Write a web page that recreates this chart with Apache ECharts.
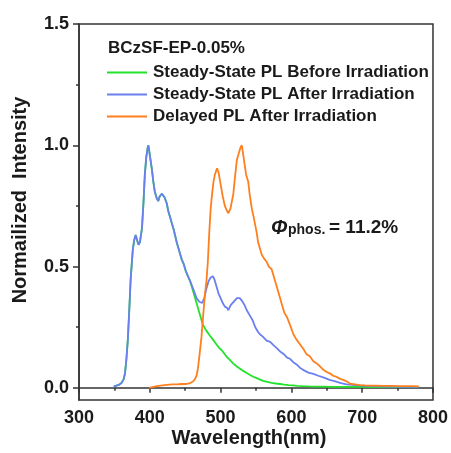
<!DOCTYPE html>
<html>
<head>
<meta charset="utf-8">
<script src="https://cdn.jsdelivr.net/npm/echarts@6/dist/echarts.min.js"></script>
<style>html,body{margin:0;padding:0;background:#fff;}#c{width:451px;height:453px;}</style>
</head>
<body>
<div id="c"></div>
<script>
// ---- data ----
var seriesNames = ['Steady-State PL Before Irradiation', 'Steady-State PL After Irradiation', 'Delayed PL After Irradiation'];
var sampleLabel = 'BCzSF-EP-0.05%';
var xTicks = [300, 400, 500, 600, 700, 800];
var yTicks = [0, 0.5, 1.0, 1.5];
var yMinorTicks = [0.25, 0.75, 1.25];

var commonWl = [349, 352, 356, 360, 363, 365, 367, 369, 371, 373, 376, 378, 380, 382, 384, 386, 389, 391, 393, 395, 397, 398, 400, 403, 405, 407, 410, 412, 414, 417, 419, 421, 424, 426, 429, 431, 434, 438, 441, 445, 448, 451, 454, 457];
var commonI  = [0.005, 0.008, 0.012, 0.02, 0.035, 0.06, 0.12, 0.2, 0.32, 0.45, 0.57, 0.61, 0.63, 0.61, 0.59, 0.6, 0.66, 0.76, 0.88, 0.95, 0.99, 1.0, 0.96, 0.9, 0.85, 0.81, 0.78, 0.77, 0.79, 0.8, 0.8, 0.785, 0.76, 0.73, 0.7, 0.68, 0.65, 0.6, 0.57, 0.53, 0.51, 0.48, 0.46, 0.44];

var greenWl = [461, 466, 470, 475, 480, 485, 489, 494, 498, 503, 508, 513, 518, 523, 527, 532, 537, 541, 546, 551, 556, 560, 566, 572, 578, 584, 590, 596, 602, 608, 616, 625, 635, 645, 660, 680, 700, 720, 740, 760, 780];
var greenI  = [0.40, 0.35, 0.31, 0.26, 0.235, 0.215, 0.20, 0.18, 0.165, 0.15, 0.13, 0.115, 0.1, 0.088, 0.08, 0.07, 0.061, 0.054, 0.046, 0.04, 0.034, 0.029, 0.025, 0.021, 0.018, 0.016, 0.013, 0.011, 0.01, 0.008, 0.007, 0.006, 0.005, 0.005, 0.004, 0.004, 0.004, 0.003, 0.003, 0.003, 0.003];

var blueWl = [461, 466, 470, 474, 477, 480, 483, 486, 489, 491, 494, 497, 500, 503, 506, 509, 511, 514, 517, 520, 523, 527, 530, 534, 537, 541, 545, 549, 553, 556, 560, 565, 570, 575, 579, 584, 589, 594, 598, 603, 608, 612, 618, 624, 631, 638, 646, 654, 662, 670, 678, 686, 695, 705, 715, 725, 735, 745, 755, 765, 780];
var blueI  = [0.41, 0.37, 0.355, 0.35, 0.37, 0.41, 0.44, 0.455, 0.46, 0.45, 0.42, 0.39, 0.37, 0.35, 0.335, 0.33, 0.32, 0.34, 0.35, 0.36, 0.37, 0.37, 0.36, 0.34, 0.32, 0.30, 0.28, 0.25, 0.23, 0.22, 0.21, 0.195, 0.19, 0.175, 0.165, 0.15, 0.14, 0.125, 0.12, 0.105, 0.095, 0.083, 0.072, 0.063, 0.058, 0.05, 0.042, 0.033, 0.027, 0.02, 0.014, 0.012, 0.01, 0.008, 0.007, 0.006, 0.005, 0.005, 0.004, 0.004, 0.004];

var orangeWl = [399, 405, 412, 418, 424, 432, 440, 447, 452, 457, 461, 464, 466, 468, 470, 473, 476, 478, 480, 482, 484, 486, 488, 490, 492, 495, 497, 500, 503, 506, 509, 511, 514, 516, 518, 520, 523, 526, 528, 530, 532, 534, 536, 539, 541, 544, 547, 549, 551, 553, 556, 558, 561, 565, 568, 572, 575, 578, 581, 584, 587, 590, 594, 598, 603, 607, 612, 617, 621, 626, 631, 636, 640, 645, 650, 654, 659, 664, 669, 674, 679, 683, 690, 697, 704, 712, 720, 730, 740, 750, 760, 770, 780];
var orangeI  = [0.0, 0.004, 0.008, 0.01, 0.012, 0.014, 0.015, 0.016, 0.016, 0.02, 0.026, 0.037, 0.05, 0.08, 0.13, 0.21, 0.32, 0.39, 0.44, 0.52, 0.64, 0.74, 0.8, 0.85, 0.88, 0.905, 0.89, 0.84, 0.79, 0.75, 0.73, 0.72, 0.74, 0.77, 0.8, 0.86, 0.94, 0.97, 0.99, 1.0, 0.96, 0.92, 0.88, 0.85, 0.8, 0.74, 0.7, 0.67, 0.64, 0.6, 0.57, 0.55, 0.535, 0.52, 0.5, 0.49, 0.46, 0.43, 0.4, 0.37, 0.34, 0.31, 0.29, 0.26, 0.22, 0.2, 0.18, 0.16, 0.14, 0.13, 0.11, 0.1, 0.09, 0.075, 0.065, 0.06, 0.05, 0.045, 0.037, 0.032, 0.025, 0.017, 0.014, 0.011, 0.01, 0.009, 0.009, 0.008, 0.008, 0.007, 0.007, 0.007, 0.006];

function pairs(xs, ys) { return xs.map(function (x, i) { return [x, ys[i]]; }); }
var greenData = pairs(commonWl, commonI).concat(pairs(greenWl, greenI));
var blueData = pairs(commonWl, commonI).concat(pairs(blueWl, blueI));
var orangeData = pairs(orangeWl, orangeI);

var FONT = '"Liberation Sans", Arial, sans-serif';
var DARK = '#1a1a1a';
var colors = ['#22e32a', '#6a7ff0', '#ff7f1e'];

var chart = echarts.init(document.getElementById('c'), null, { renderer: 'canvas' });
chart.setOption({
  animation: false,
  backgroundColor: '#fff',
  color: colors,
  grid: { left: 79, right: 18, top: 24, bottom: 53, show: true, borderColor: '#333', borderWidth: 1.5, backgroundColor: 'transparent' },
  legend: {
    orient: 'vertical', left: 107, top: 64, padding: 0,
    icon: 'rect', itemWidth: 40, itemHeight: 2, itemGap: 5,
    data: seriesNames,
    textStyle: { fontFamily: FONT, fontWeight: 'bold', fontSize: 17, color: DARK, lineHeight: 17, padding: [0, 0, 0, 1] }
  },
  xAxis: {
    type: 'value', min: xTicks[0], max: xTicks[xTicks.length - 1], interval: 100,
    axisLine: { lineStyle: { color: '#333', width: 1.5 } },
    axisTick: { length: 5, lineStyle: { color: '#333', width: 1.5 } },
    minorTick: { show: true, splitNumber: 2, length: 3, lineStyle: { color: '#333', width: 1.5 } },
    splitLine: { show: false },
    axisLabel: { margin: 9, fontFamily: FONT, fontWeight: 'bold', fontSize: 18, color: DARK }
  },
  yAxis: [{
    type: 'value', min: -0.05, max: 1.5,
    axisLine: { show: true, lineStyle: { color: '#333', width: 1.5 } },
    axisTick: { show: true, length: 6, customValues: yTicks, lineStyle: { color: '#333', width: 1.5 } },
    splitLine: { show: false },
    axisLabel: { margin: 10, customValues: yTicks, fontFamily: FONT, fontWeight: 'bold', fontSize: 18, color: DARK,
      formatter: function (v) { return v.toFixed(1); } }
  }, {
    type: 'value', min: -0.05, max: 1.5, position: 'left',
    axisLine: { show: false },
    axisTick: { show: true, length: 3, customValues: yMinorTicks, lineStyle: { color: '#333', width: 1.5 } },
    axisLabel: { show: false, customValues: yMinorTicks },
    splitLine: { show: false }
  }],
  graphic: [
    { type: 'text', left: 108, top: 40, style: { text: sampleLabel, font: 'bold 17px ' + FONT, fill: DARK } },
    { type: 'text', x: 20, y: 200, rotation: Math.PI / 2, style: { text: 'Normailized  Intensity', font: 'bold 20px ' + FONT, fill: DARK, align: 'center', verticalAlign: 'middle' } },
    { type: 'text', x: 249, y: 438, style: { text: 'Wavelength(nm)', font: 'bold 20px ' + FONT, fill: DARK, align: 'center', verticalAlign: 'middle' } },
    { type: 'text', x: 271, y: 218, style: { text: 'Φ', font: 'italic bold 20px ' + FONT, fill: DARK, align: 'left', verticalAlign: 'alphabetic' } },
    { type: 'text', x: 288, y: 223, style: { text: 'phos.', font: 'bold 14px ' + FONT, fill: DARK, align: 'left', verticalAlign: 'alphabetic' } },
    { type: 'text', x: 329, y: 218, style: { text: '= 11.2%', font: 'bold 19px ' + FONT, fill: DARK, align: 'left', verticalAlign: 'alphabetic' } }
  ],
  series: [
    { name: seriesNames[0], type: 'line', data: greenData, showSymbol: false, lineStyle: { width: 1.8, color: colors[0] }, z: 2 },
    { name: seriesNames[1], type: 'line', data: blueData, showSymbol: false, lineStyle: { width: 1.8, color: colors[1] }, z: 3 },
    { name: seriesNames[2], type: 'line', data: orangeData, showSymbol: false, lineStyle: { width: 1.8, color: colors[2] }, z: 4 }
  ]
});
</script>
</body>
</html>
